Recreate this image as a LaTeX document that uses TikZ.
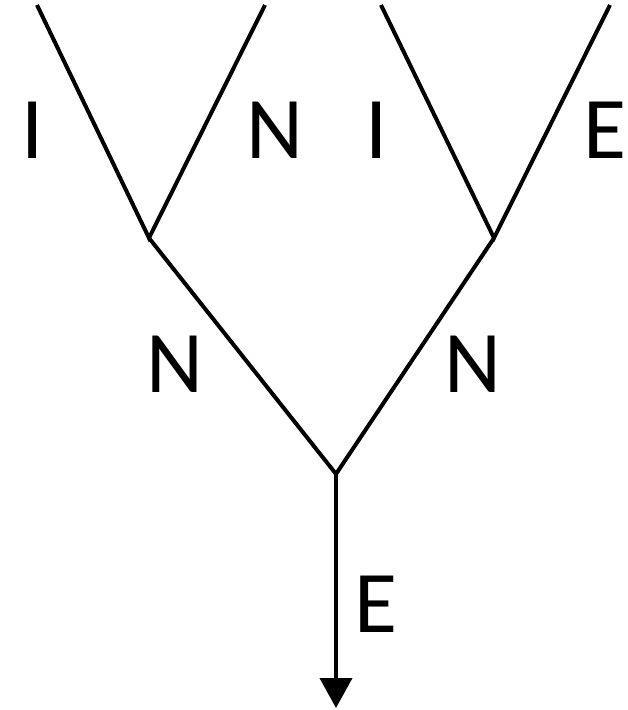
\documentclass[tikz,border=0pt]{standalone}
\usepackage{fontspec}
\setmainfont{Carlito}
\usetikzlibrary{arrows.meta}
\begin{document}
\begin{tikzpicture}[x=1pt,y=-1pt,
  branch/.style={line width=4pt,line join=miter},
  lbl/.style={font=\fontsize{88}{88}\selectfont,anchor=base,inner sep=0pt}]
\useasboundingbox (0,0) rectangle (628,710);
\coordinate (t1) at (37,5);
\coordinate (t2) at (265,5);
\coordinate (t3) at (381,5);
\coordinate (t4) at (610,5);
\coordinate (vl) at (149,238);
\coordinate (vr) at (494,238);
\coordinate (vb) at (336,474);
\coordinate (end) at (336,708);
\draw[branch] (t1) -- (vl) -- (t2);
\draw[branch] (t3) -- (vr) -- (t4);
\draw[branch] (vl) -- (vb) -- (vr);
\draw[branch,-{Triangle[width=32pt,length=30pt]}] (vb) -- (end);
\node[lbl] (l1) at (33,158) {I};
\node[lbl] (l2) at (275,158) {N};
\node[lbl] (l3) at (377,158) {I};
\node[lbl] (l4) at (605,158) {E};
\node[lbl] (l5) at (175,392) {N};
\node[lbl] (l6) at (473,392) {N};
\node[lbl] (l7) at (376,632) {E};
\end{tikzpicture}
\end{document}
